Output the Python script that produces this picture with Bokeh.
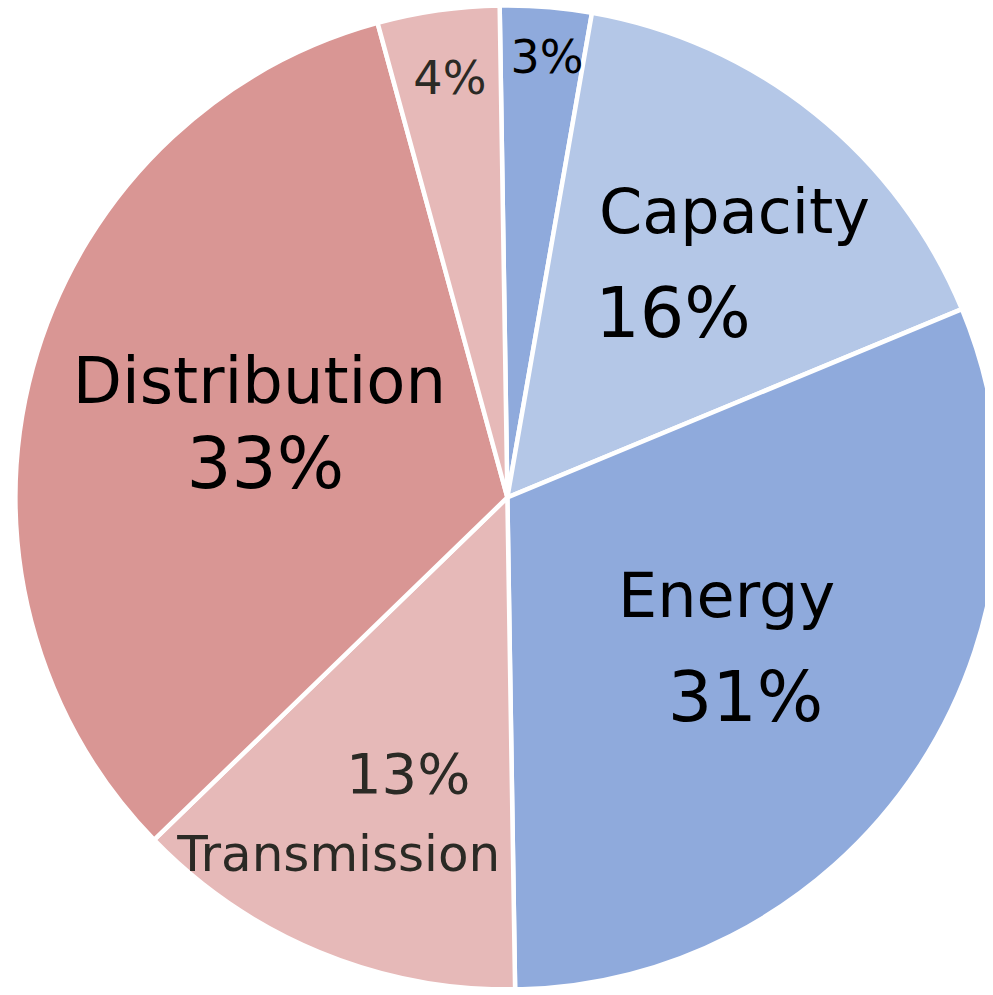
import math
from bokeh.plotting import figure
from bokeh.models import Range1d, ColumnDataSource
from bokeh.core.properties import value
from bokeh.embed import file_html
from bokeh.resources import INLINE

# ---- data ----
categories = ["", "Capacity", "Energy", "Transmission", "Distribution", ""]
shares = [3, 16, 31, 13, 33, 4]
pct_labels = ["3%", "16%", "31%", "13%", "33%", "4%"]
colors = ["#8faadc", "#b4c7e7", "#8faadc", "#e6b9b8", "#d99694", "#e6b9b8"]

# ---- layout ----
W, H = 985, 987
REF_W, REF_H = 993, 995
SX, SY = W / REF_W, H / REF_H
FONT = "DejaVu Sans"
BASE_FIX = 0.33  # baseline correction (fraction of font size)

def px(x, y):
    # reference pixel -> data coords (1 unit == 1 px on screen)
    return x * SX, H - y * SY

cx, cy = px(511, 501)
R = 496 * SX
rotation = -0.9  # degrees clockwise from 12 o'clock where first slice starts

total = float(sum(shares))
starts, ends = [], []
acc = rotation
for v in shares:
    a0 = acc
    a1 = acc + v / total * 360.0
    acc = a1
    starts.append(math.radians(90 - a0))
    ends.append(math.radians(90 - a1))

src = ColumnDataSource(dict(start=starts, end=ends, color=colors,
                            x=[cx] * len(shares), y=[cy] * len(shares)))

p = figure(width=W, height=H, output_backend="svg", toolbar_location=None,
           x_range=Range1d(0, W), y_range=Range1d(0, H), min_border=0,
           background_fill_color="white", border_fill_color="white")
p.axis.visible = False
p.grid.visible = False
p.outline_line_color = None

p.wedge(x="x", y="y", radius=R, radius_units="screen", start_angle="start",
        end_angle="end", direction="clock", fill_color="color",
        line_color="white", line_width=4.5, source=src)

dark = "#000000"
warm = "#2b2a25"
# (slice index, which text, ref x centre, ref baseline y, font px, colour)
label_specs = [
    (0, "pct", 551, 72, 46, dark),
    (5, "pct", 453, 93, 46, warm),
    (1, "cat", 740, 233, 62, dark),
    (1, "pct", 678, 338, 70, dark),
    (2, "cat", 732, 620, 62, dark),
    (2, "pct", 751, 725, 70, dark),
    (4, "cat", 261, 405, 64, dark),
    (4, "pct", 267, 490, 71, dark),
    (3, "pct", 411, 798, 56, warm),
    (3, "cat", 341, 877, 50, warm),
]

for idx, which, lx, ly, size, col in label_specs:
    txt = categories[idx] if which == "cat" else pct_labels[idx]
    x, y = px(lx, ly)
    y += BASE_FIX * size
    p.text(x=[x], y=[y], text=[txt], text_font=value(FONT),
           text_font_size=value(f"{size}px"), text_color=col,
           text_align="center", text_baseline="alphabetic")

open("out.html", "w").write(file_html(p, INLINE))
